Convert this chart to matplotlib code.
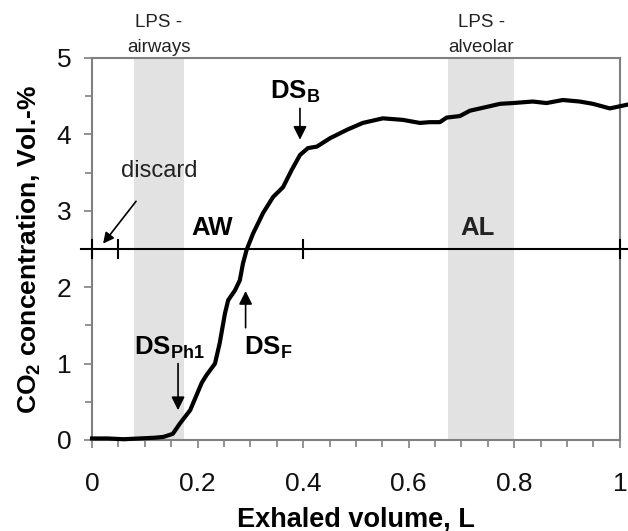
import numpy as np
import matplotlib.pyplot as plt
from matplotlib.ticker import MultipleLocator, FixedLocator

plt.rcParams['font.family'] = ['Liberation Sans', 'DejaVu Sans']
plt.rcParams['mathtext.fontset'] = 'custom'
plt.rcParams['mathtext.rm'] = 'Liberation Sans'
plt.rcParams['mathtext.bf'] = 'Liberation Sans:bold'

# capnogram: exhaled volume (L) vs CO2 (Vol.-%)
volume = [0.0, 0.03, 0.06, 0.09, 0.12, 0.135, 0.153, 0.167, 0.186, 0.208, 0.217,
          0.233, 0.242, 0.252, 0.258, 0.271, 0.280, 0.286, 0.293, 0.305, 0.324,
          0.343, 0.362, 0.378, 0.394, 0.409, 0.426, 0.451, 0.483, 0.513, 0.551,
          0.589, 0.621, 0.640, 0.659, 0.672, 0.697, 0.716, 0.748, 0.773, 0.797,
          0.835, 0.861, 0.892, 0.924, 0.949, 0.981, 1.015]
co2 = [0.02, 0.02, 0.01, 0.02, 0.03, 0.04, 0.08, 0.22, 0.39, 0.75, 0.85,
       1.0, 1.27, 1.66, 1.83, 1.96, 2.09, 2.31, 2.49, 2.70, 2.97,
       3.18, 3.31, 3.53, 3.73, 3.82, 3.84, 3.95, 4.06, 4.15, 4.21,
       4.19, 4.15, 4.16, 4.16, 4.22, 4.24, 4.31, 4.36, 4.40, 4.41,
       4.43, 4.41, 4.45, 4.43, 4.40, 4.34, 4.39]

lps_airways = (0.08, 0.175)
lps_alveolar = (0.675, 0.8)
split_level = 2.5
split_ticks = [0.0, 0.05, 0.4, 1.0]

fig = plt.figure(figsize=(6.28, 5.31), dpi=100)
ax = fig.add_axes([0.1465, 0.1714, 0.8405, 0.7194])

ax.axvspan(lps_airways[0], lps_airways[1], color='#e2e2e2', lw=0, zorder=0)
ax.axvspan(lps_alveolar[0], lps_alveolar[1], color='#e2e2e2', lw=0, zorder=0)

ax.plot(volume, co2, color='black', lw=3, clip_on=False, zorder=3)

# AW / AL split line
ax.plot([-0.02, 1.02], [split_level, split_level], color='black', lw=1.5,
        clip_on=False, zorder=4)
for t in split_ticks:
    ax.plot([t, t], [split_level - 0.12, split_level + 0.12], color='black',
            lw=1.5, clip_on=False, zorder=4)

ax.set_xlim(0, 1)
ax.set_ylim(0, 5)
ax.xaxis.set_major_locator(FixedLocator([0, 0.2, 0.4, 0.6, 0.8, 1.0]))
ax.xaxis.set_minor_locator(MultipleLocator(0.05))
ax.set_xticklabels(['0', '0.2', '0.4', '0.6', '0.8', '1'])
ax.yaxis.set_major_locator(MultipleLocator(1))
ax.yaxis.set_minor_locator(MultipleLocator(0.5))
ax.tick_params(which='both', direction='out', color='#808080', width=1.2,
               labelsize=19, labelcolor='#111111')
ax.tick_params(which='major', length=6)
ax.tick_params(which='minor', length=5)
ax.tick_params(axis='x', pad=17)
ax.tick_params(axis='y', pad=9)
for s in ax.spines.values():
    s.set_color('#808080')
    s.set_linewidth(1.5)

fig.text(0.566, 0.009, 'Exhaled volume, L', ha='center', va='baseline',
         fontsize=19.5, fontweight='bold')
ax.set_ylabel(r'CO$_\mathbf{2}$ concentration, Vol.-%', fontsize=19,
              fontweight='bold', labelpad=10)

ax.text(0.127, 5.47, 'LPS -', ha='center', va='center', fontsize=13.5, color='#222222')
ax.text(0.127, 5.14, 'airways', ha='center', va='center', fontsize=13.5, color='#222222')
ax.text(0.738, 5.47, 'LPS -', ha='center', va='center', fontsize=13.5, color='#222222')
ax.text(0.738, 5.14, 'alveolar', ha='center', va='center', fontsize=13.5, color='#222222')

ax.text(0.227, 2.77, 'AW', ha='center', va='center', fontsize=18.5, fontweight='bold')
ax.text(0.731, 2.77, 'AL', ha='center', va='center', fontsize=18.5, fontweight='bold',
        color='#222222')

ax.annotate('discard', xy=(0.021, 2.57), xytext=(0.128, 3.52), ha='center',
            va='center', fontsize=17, color='#222222',
            arrowprops=dict(arrowstyle='-|>', color='black', lw=1.2,
                            shrinkA=15, shrinkB=0, mutation_scale=16))

arrow = dict(arrowstyle='-|>', color='black', lw=1.2, shrinkA=0, shrinkB=0,
             mutation_scale=20)
ax.text(0.385, 4.55, r'$\mathbf{DS_B}$', ha='center', va='center', fontsize=18.5)
ax.annotate('', xy=(0.394, 3.93), xytext=(0.394, 4.34), arrowprops=arrow)
ax.text(0.333, 1.2, r'$\mathbf{DS_F}$', ha='center', va='center', fontsize=18.5)
ax.annotate('', xy=(0.291, 1.95), xytext=(0.291, 1.47), arrowprops=arrow)
ax.text(0.146, 1.2, r'$\mathbf{DS_{Ph1}}$', ha='center', va='center', fontsize=18.5)
ax.annotate('', xy=(0.163, 0.39), xytext=(0.163, 1.0), arrowprops=arrow)

fig.savefig('out.png', dpi=100)
